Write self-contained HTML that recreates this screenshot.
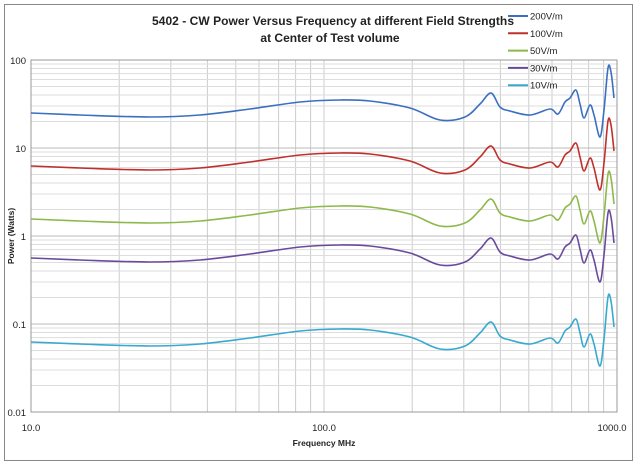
<!DOCTYPE html><html><head><style>body{margin:0;background:#fff}svg{font-family:"Liberation Sans",sans-serif}</style></head><body>
<svg id="s" width="638" height="467" xmlns="http://www.w3.org/2000/svg">
<rect x="4.5" y="4.5" width="628" height="456" fill="#fff" stroke="#888"/>
<g id="grid"></g>
<rect x="31" y="60" width="586" height="352" fill="none" stroke="#999"/>
<text x="333" y="25" font-size="12" font-weight="bold" text-anchor="middle" fill="#222" textLength="362">5402 - CW Power Versus Frequency at different Field Strengths</text>
<text x="330" y="42" font-size="12" font-weight="bold" text-anchor="middle" fill="#222">at Center of Test volume</text>
<g font-size="9.5" fill="#222" text-anchor="end">
<text x="26" y="64">100</text><text x="26" y="152">10</text><text x="26" y="240">1</text><text x="26" y="328">0.1</text><text x="26" y="416">0.01</text></g>
<g font-size="9.5" fill="#222" text-anchor="middle">
<text x="31" y="431">10.0</text><text x="324" y="431">100.0</text><text x="612" y="431">1000.0</text></g>
<text x="324" y="446" font-size="8.5" font-weight="bold" text-anchor="middle" fill="#222">Frequency MHz</text>
<text transform="translate(14,236) rotate(-90)" font-size="8.5" font-weight="bold" text-anchor="middle" fill="#222">Power (Watts)</text>
<g id="curves" fill="none" stroke-width="1.6"></g>
<g id="leg" font-size="9.5" fill="#222"></g>
</svg>
<script>
var ns="http://www.w3.org/2000/svg",g=document.getElementById('grid');
function ln(x1,y1,x2,y2,c,p){var l=document.createElementNS(ns,'line');l.setAttribute('x1',x1);l.setAttribute('y1',y1);l.setAttribute('x2',x2);l.setAttribute('y2',y2);l.setAttribute('stroke',c);l.setAttribute('stroke-width',1);p.appendChild(l);}
for(var d=0;d<2;d++)for(var k=1;k<10;k++){var x=31+293*(d+Math.log10(k));ln(x,60,x,412,'#ccc',g);}
for(var d=0;d<4;d++)for(var k=1;k<10;k++){var y=412-88*(d+Math.log10(k));ln(31,y,617,y,k==1?'#bbb':'#ddd',g);}
var P=[[31,113],[80,115],[150,117],[200,115],[250,109],[300,102],[340,100],[370,101],[410,108],[440,120],[465,117],[480,104],[491,93],[500,107],[510,111],[530,115],[550,109],[558,114],[565,102],[570,98],[576,90],[580,104],[584,118],[590,105],[594,115],[600,137],[604,110],[608,68],[611,72],[614,98]];
var cs=[['#3a6fc1',0,'200V/m'],['#c0302b',53,'100V/m'],['#8db94b',106,'50V/m'],['#6a4a9c',145,'30V/m'],['#38a9cf',229,'10V/m']];
var cg=document.getElementById('curves'),lg=document.getElementById('leg');
cs.forEach(function(c,i){var o=c[1];var d='M'+P[0][0]+' '+(P[0][1]+o);
for(var j=0;j<P.length-1;j++){var p0=P[Math.max(j-1,0)],p1=P[j],p2=P[j+1],p3=P[Math.min(j+2,P.length-1)];
var c1x=p1[0]+(p2[0]-p0[0])/6,c1y=p1[1]+(p2[1]-p0[1])/6,c2x=p2[0]-(p3[0]-p1[0])/6,c2y=p2[1]-(p3[1]-p1[1])/6;
d+=' C'+c1x+' '+(c1y+o)+' '+c2x+' '+(c2y+o)+' '+p2[0]+' '+(p2[1]+o);}
var pa=document.createElementNS(ns,'path');pa.setAttribute('d',d);pa.setAttribute('stroke',c[0]);cg.appendChild(pa);
var y=16+i*17.3;var l=document.createElementNS(ns,'line');l.setAttribute('x1',508);l.setAttribute('x2',528);l.setAttribute('y1',y);l.setAttribute('y2',y);l.setAttribute('stroke',c[0]);l.setAttribute('stroke-width',2);lg.appendChild(l);
var t=document.createElementNS(ns,'text');t.setAttribute('x',530);t.setAttribute('y',y+3.5);t.textContent=c[2];lg.appendChild(t);});
</script></body></html>
